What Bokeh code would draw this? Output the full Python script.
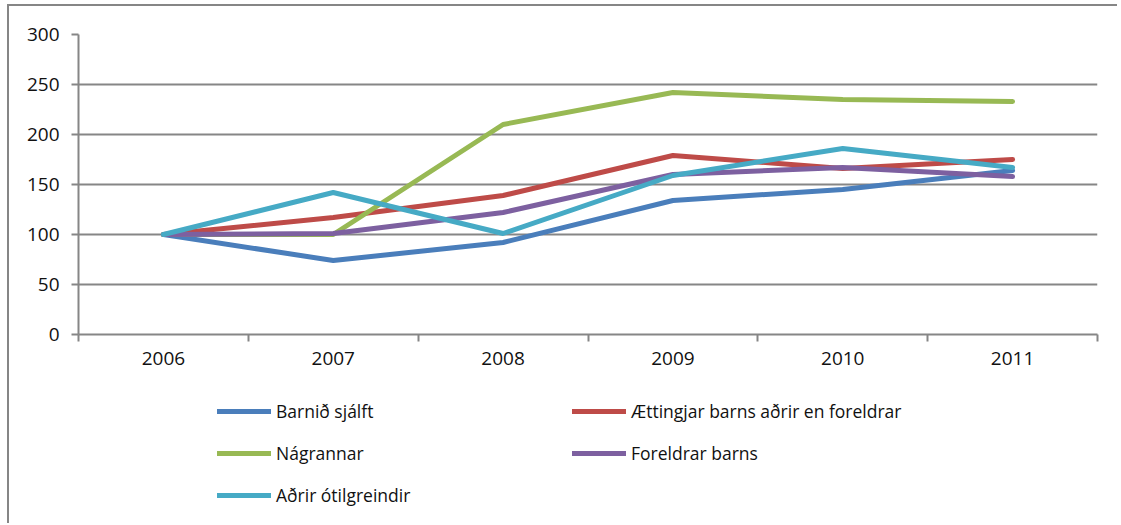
from bokeh.plotting import figure
from bokeh.layouts import column
from bokeh.models import FixedTicker, Legend, LegendItem, SingleIntervalTicker
from bokeh.embed import file_html
from bokeh.resources import INLINE

years = [2006, 2007, 2008, 2009, 2010, 2011]
year_bounds = [2005.5, 2006.5, 2007.5, 2008.5, 2009.5, 2010.5, 2011.5]

barnid_sjalft = [100, 74, 92, 134, 145, 164]
aettingjar = [100, 117, 139, 179, 166, 175]
nagrannar = [100, 100, 210, 242, 235, 233]
foreldrar = [100, 101, 122, 160, 167, 158]
adrir = [100, 142, 101, 159, 186, 167]

series_names = ["Barnið sjálft", "Ættingjar barns aðrir en foreldrar", "Nágrannar",
                "Foreldrar barns", "Aðrir ótilgreindir"]
series_values = [barnid_sjalft, aettingjar, nagrannar, foreldrar, adrir]
series_colors = ["#4A7EBB", "#BE4B48", "#98B954", "#7D60A0", "#46AAC5"]

GRAY = "#868686"
FONT = "Open Sans"

# ---- main chart ----
p = figure(width=1108, height=378, x_range=(2005.5, 2011.5), y_range=(0, 300),
           output_backend="svg", toolbar_location=None,
           min_border_left=69, min_border_right=20, min_border_top=28, min_border_bottom=50)
p.outline_line_color = None
p.background_fill_color = "white"
p.border_fill_color = "white"

p.yaxis.ticker = SingleIntervalTicker(interval=50)
p.yaxis.axis_line_color = GRAY
p.yaxis.axis_line_width = 2
p.yaxis.major_tick_line_color = GRAY
p.yaxis.major_tick_line_width = 2
p.yaxis.major_tick_out = 7
p.yaxis.major_tick_in = 0
p.yaxis.minor_tick_line_color = None
p.yaxis.major_label_text_font = FONT
p.yaxis.major_label_text_font_size = "19px"
p.yaxis.major_label_text_color = "#111111"
p.yaxis.major_label_standoff = 12

p.xaxis.ticker = FixedTicker(ticks=years, minor_ticks=year_bounds)
p.xaxis.axis_line_color = GRAY
p.xaxis.axis_line_width = 2
p.xaxis.major_tick_line_color = None
p.xaxis.major_tick_out = 0
p.xaxis.major_tick_in = 0
p.xaxis.minor_tick_line_color = GRAY
p.xaxis.minor_tick_line_width = 2
p.xaxis.minor_tick_out = 7
p.xaxis.minor_tick_in = 0
p.xaxis.major_label_text_font = FONT
p.xaxis.major_label_text_font_size = "19px"
p.xaxis.major_label_text_color = "#111111"
p.xaxis.major_label_standoff = 10

p.xgrid.grid_line_color = None
p.ygrid.ticker = SingleIntervalTicker(interval=50)
p.ygrid.grid_line_color = GRAY
p.ygrid.grid_line_width = 2

for vals, col in zip(series_values, series_colors):
    p.line(years, vals, line_color=col, line_width=5, line_cap="round", line_join="round")

# ---- legend panel (same series, drawn outside its visible range) ----
leg = figure(width=1108, height=139, x_range=(2005.5, 2011.5), y_range=(1000, 1001),
             output_backend="svg", toolbar_location=None,
             x_axis_location=None, y_axis_location=None,
             min_border_left=0, min_border_right=0, min_border_top=0, min_border_bottom=0)
leg.outline_line_color = None
leg.xgrid.grid_line_color = None
leg.ygrid.grid_line_color = None
leg.background_fill_color = "white"
leg.border_fill_color = "white"

items = []
for name, vals, col in zip(series_names, series_values, series_colors):
    r = leg.line(years, vals, line_color=col, line_width=5, line_cap="round", line_join="round")
    items.append(LegendItem(label=name, renderers=[r]))

legend = Legend(items=items, orientation="horizontal", ncols=2,
                location=(139, 16), padding=0, margin=0,
                glyph_width=54, glyph_height=20, label_height=20, label_width=278,
                label_standoff=5, spacing=18,
                label_text_font=FONT, label_text_font_size="17.5px", label_text_color="#111111",
                border_line_color=None, background_fill_alpha=0)
leg.add_layout(legend, "center")

layout = column(p, leg, spacing=0,
                styles={"border-left": "2px solid " + GRAY, "border-top": "2px solid " + GRAY,
                        "margin-left": "7px", "margin-top": "4px"})

open("out.html", "w").write(file_html(layout, INLINE))
